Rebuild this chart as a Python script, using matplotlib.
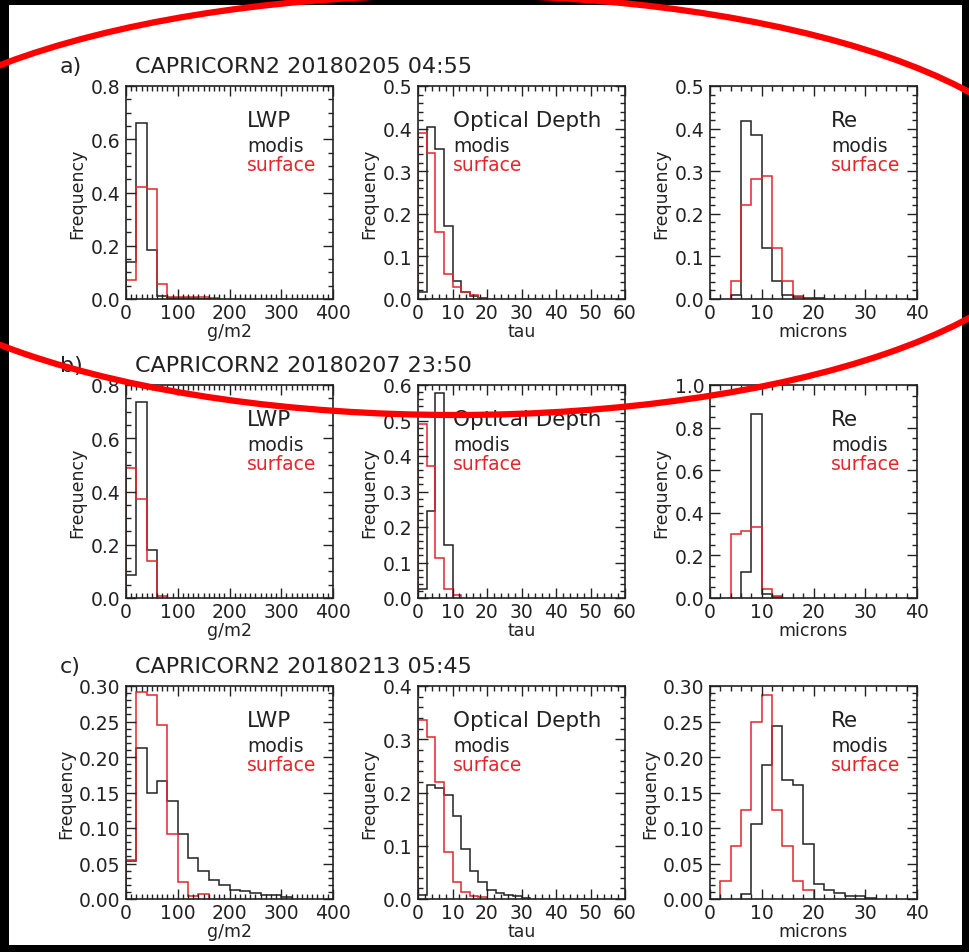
import numpy as np
import matplotlib
matplotlib.use('Agg')
import matplotlib.pyplot as plt
import matplotlib.patches as mpatches
from matplotlib.ticker import MultipleLocator, FormatStrFormatter

# bin widths of each variable
lwp_bin = 20.0
tau_bin = 2.5
re_bin = 2.0

row_labels = ['a)', 'b)', 'c)']
row_titles = ['CAPRICORN2 20180205 04:55', 'CAPRICORN2 20180207 23:50', 'CAPRICORN2 20180213 05:45']

# a) 20180205
a_lwp_modis = [0.14, 0.66, 0.185, 0.012, 0.003, 0.002, 0.002, 0.001, 0.001]
a_lwp_surface = [0.07, 0.42, 0.415, 0.055, 0.009, 0.006, 0.008, 0.009, 0.005]
a_tau_modis = [0.016, 0.404, 0.352, 0.171, 0.043, 0.016, 0.007, 0.003]
a_tau_surface = [0.39, 0.342, 0.157, 0.059, 0.027, 0.016, 0.009, 0.003]
a_re_modis = [0.009, 0.417, 0.386, 0.12, 0.042, 0.01, 0.004, 0.002, 0.002]
a_re_surface = [0.042, 0.221, 0.281, 0.288, 0.12, 0.042, 0.006, 0.002]

# b) 20180207
b_lwp_modis = [0.085, 0.736, 0.179]
b_lwp_surface = [0.49, 0.372, 0.138, 0.006]
b_tau_modis = [0.026, 0.246, 0.578, 0.150]
b_tau_surface = [0.489, 0.372, 0.113, 0.026, 0.009]
b_re_modis = [0.121, 0.864, 0.019, 0.004]
b_re_surface = [0.299, 0.315, 0.335, 0.044, 0.008]

# c) 20180213
c_lwp_modis = [0.053, 0.213, 0.150, 0.166, 0.138, 0.091, 0.058, 0.039, 0.027, 0.020,
               0.013, 0.011, 0.0085, 0.006, 0.006, 0.003]
c_lwp_surface = [0.055, 0.292, 0.287, 0.245, 0.091, 0.0235, 0.004, 0.0075]
c_tau_modis = [0.008, 0.214, 0.208, 0.196, 0.156, 0.094, 0.052, 0.031, 0.0175, 0.011,
               0.008, 0.005, 0.002]
c_tau_surface = [0.336, 0.305, 0.219, 0.089, 0.031, 0.013, 0.005, 0.004]
c_re_modis = [0.0075, 0.106, 0.189, 0.244, 0.167, 0.160, 0.078, 0.0216, 0.012, 0.0085,
              0.0047, 0.004, 0.002]
c_re_surface = [0.025, 0.075, 0.125, 0.25, 0.288, 0.125, 0.075, 0.025, 0.012]

# first bin edge of each Re series (modis, surface)
re_start = [(4, 4), (6, 4), (6, 2)]

lwp_data = [(a_lwp_modis, a_lwp_surface), (b_lwp_modis, b_lwp_surface), (c_lwp_modis, c_lwp_surface)]
tau_data = [(a_tau_modis, a_tau_surface), (b_tau_modis, b_tau_surface), (c_tau_modis, c_tau_surface)]
re_data = [(a_re_modis, a_re_surface), (b_re_modis, b_re_surface), (c_re_modis, c_re_surface)]

ytop = [[0.8, 0.5, 0.5], [0.8, 0.6, 1.0], [0.30, 0.4, 0.30]]

BLACK = '#222222'
RED = '#e3262b'

W, H = 969, 953
fig = plt.figure(figsize=(W / 100, H / 100), dpi=100, facecolor='black')
fig.patches.append(mpatches.Rectangle((9 / W, 1 - 946 / H), 953 / W, 940 / H,
                                      transform=fig.transFigure, facecolor='white',
                                      edgecolor='none', zorder=-5))

col_left = [126, 418, 710]
col_w = 207
row_top = [87, 386, 687]
row_h = 213

names = ['LWP', 'Optical Depth', 'Re']
xlabels = ['g/m2', 'tau', 'microns']
xlims = [400, 60, 40]
xmajor = [100, 10, 10]
xminor = [10, 2, 2]
name_x = [0.585, 0.17, 0.585]

for r in range(3):
    ybase = 1 - (row_top[r] - 14) / H
    fig.text(60 / W, ybase, row_labels[r], fontsize=16, color=BLACK, va='baseline')
    fig.text(135 / W, ybase, row_titles[r], fontsize=16, color=BLACK, va='baseline')
    for c in range(3):
        ax = fig.add_axes([col_left[c] / W, 1 - (row_top[r] + row_h) / H, col_w / W, row_h / H])
        ax.set_facecolor('white')
        if c == 0:
            modis, surf = lwp_data[r]
            s_m, s_s, bw = 0.0, 0.0, lwp_bin
        elif c == 1:
            modis, surf = tau_data[r]
            s_m, s_s, bw = 0.0, 0.0, tau_bin
        else:
            modis, surf = re_data[r]
            s_m, s_s = re_start[r]
            bw = re_bin
        e_m = s_m + bw * np.arange(len(modis) + 1)
        e_s = s_s + bw * np.arange(len(surf) + 1)
        ax.stairs(modis, e_m, color=BLACK, lw=1.1)
        ax.stairs(surf, e_s, color=RED, lw=1.1)

        yt = ytop[r][c]
        ax.set_xlim(0, xlims[c])
        ax.set_ylim(0, yt)
        ax.xaxis.set_major_locator(MultipleLocator(xmajor[c]))
        ax.xaxis.set_minor_locator(MultipleLocator(xminor[c]))
        if yt >= 0.8:
            ymaj, ymin = 0.2, 0.05
        elif abs(yt - 0.30) < 1e-9:
            ymaj, ymin = 0.05, 0.01
        else:
            ymaj, ymin = 0.1, 0.02
        ax.yaxis.set_major_locator(MultipleLocator(ymaj))
        ax.yaxis.set_minor_locator(MultipleLocator(ymin))
        ax.yaxis.set_major_formatter(FormatStrFormatter('%.2f' if ymaj < 0.1 else '%.1f'))
        ax.tick_params(which='both', direction='in', top=True, right=True, colors=BLACK,
                       labelsize=13.5, width=1)
        ax.tick_params(which='major', length=7)
        ax.tick_params(which='minor', length=3.5)
        ax.tick_params(axis='x', pad=3)
        ax.tick_params(axis='y', pad=4)
        for sp in ax.spines.values():
            sp.set_color(BLACK)
            sp.set_linewidth(1.2)
        ax.set_xlabel(xlabels[c], fontsize=12.5, color=BLACK, labelpad=0)
        ax.set_ylabel('Frequency', fontsize=12.5, color=BLACK, labelpad=3)

        ax.text(name_x[c], 0.81, names[c], transform=ax.transAxes, fontsize=15.5, color=BLACK)
        ax.text(name_x[c], 0.695, 'modis', transform=ax.transAxes, fontsize=13.5, color=BLACK)
        ax.text(name_x[c], 0.605, 'surface', transform=ax.transAxes, fontsize=13.5, color=RED)

# red annotation ellipse around the first row
ell = mpatches.Ellipse((455 / W, 1 - 206 / H), 1220 / W, 420 / H, transform=fig.transFigure,
                       fill=False, edgecolor='#ff0000', lw=4.5, zorder=10, clip_on=False)
fig.patches.append(ell)

fig.savefig('out.png', dpi=100, facecolor=fig.get_facecolor())
